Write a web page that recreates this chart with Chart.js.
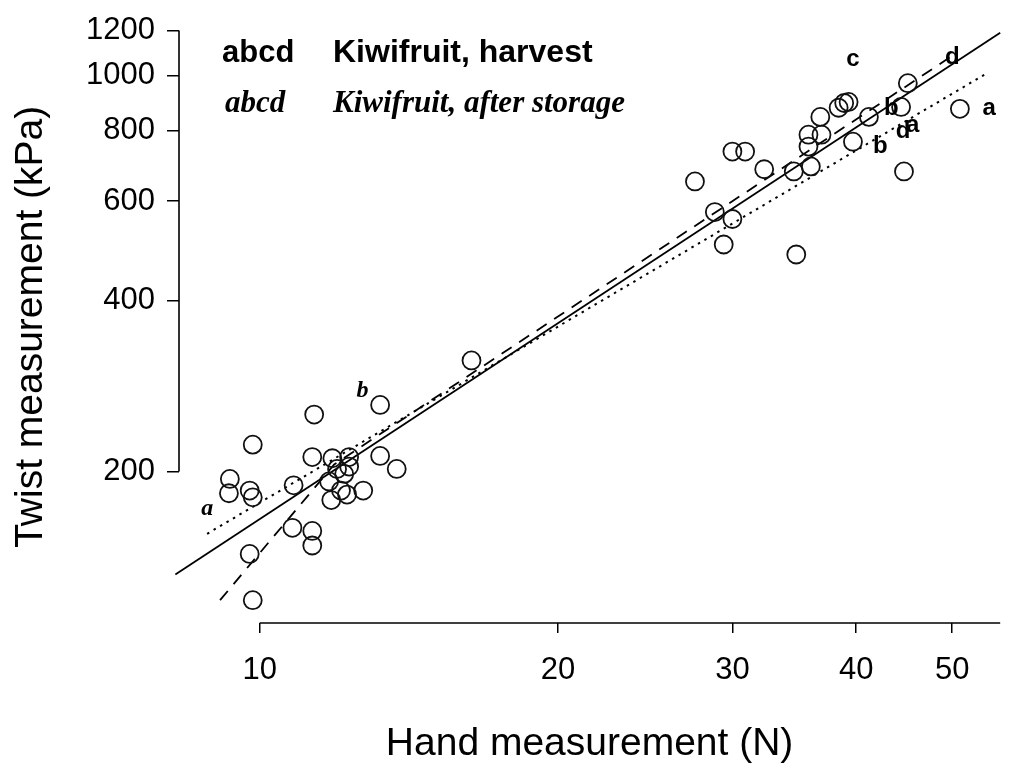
<!DOCTYPE html>
<html>
<head>
<meta charset="utf-8">
<script src="https://cdn.jsdelivr.net/npm/chart.js@4.4.1/dist/chart.umd.min.js"></script>
<style>
  html, body { margin: 0; padding: 0; background: #fff; }
  #wrap { width: 1011px; height: 769px; }
</style>
</head>
<body>
<div id="wrap"><canvas id="chart" width="1011" height="769"></canvas></div>
<script>
// ticks
const xTicks = [10, 20, 30, 40, 50];
const yTicks = [200, 400, 600, 800, 1000, 1200];

// fruit after storage (lower left group)
const storageX = [9.84, 9.33, 9.31, 9.77, 9.84, 10.82, 11.35, 13.23, 11.30, 11.84, 12.31, 12.31, 12.17, 11.75,
                  12.08, 12.25, 11.81, 12.72, 13.23, 13.75, 10.79, 11.30, 11.30, 9.77, 9.84, 16.36, 11.97];
const storageY = [223, 194, 183, 185, 180, 189, 252, 262, 212, 211, 212, 204, 198, 192,
                  185, 182, 178, 185, 213, 202, 159, 157, 148, 143, 118.5, 314, 202];

// fruit at harvest (upper right group)
const harvestX = [27.5, 30.0, 30.9, 32.3, 28.8, 30.0, 29.4, 34.8, 34.6, 35.8, 35.8, 36.8, 36.9, 38.9,
                  39.3, 38.4, 39.7, 41.2, 44.4, 45.1, 44.7, 50.9, 36.0];
const harvestY = [650, 734, 734, 683, 574, 558, 503, 483, 677, 786, 749, 845, 786, 894,
                  898, 877, 764, 845, 880, 969, 677, 873, 691];

// fitted lines
const solidX = [8.22, 55.9];
const solidY = [131.6, 1190];
const dottedX = [8.85, 54.4];
const dottedY = [155.2, 1013];
const dashedX = [9.12, 11.89, 50.4];
const dashedY = [118.5, 205.7, 1093];

// line end labels
const harvestLabelText = ['c', 'd', 'a', 'b', 'd', 'a', 'b'];
const harvestLabelX = [39.7, 50.0, 54.5, 42.3, 44.6, 45.6, 43.4];
const harvestLabelY = [1068, 1076, 876, 749, 796, 818, 876];
const storageLabelText = ['a', 'b'];
const storageLabelX = [8.85, 12.7];
const storageLabelY = [172, 278];

const toPts = (xs, ys) => xs.map((v, i) => ({ x: v, y: ys[i] }));

const SANS = '"Liberation Sans", Arial, Helvetica, sans-serif';
const SERIF = '"Liberation Serif", "Times New Roman", serif';

const pointStyle = {
    type: 'scatter',
    pointStyle: 'circle',
    pointRadius: 9,
    pointHoverRadius: 9,
    borderColor: '#111',
    backgroundColor: 'rgba(0,0,0,0)',
    borderWidth: 1.8
};

const lineStyle = {
    type: 'line',
    showLine: true,
    pointRadius: 0,
    borderColor: '#000',
    fill: false,
    tension: 0,
    clip: false
};

const paperPlugin = {
    id: 'paper',
    afterDatasetsDraw(chart) {
        const { ctx, chartArea, scales: { x, y } } = chart;
        ctx.save();
        // partial axis lines, like the printed figure
        ctx.strokeStyle = '#000';
        ctx.lineWidth = 1.6;
        ctx.beginPath();
        ctx.moveTo(chartArea.left, y.getPixelForValue(yTicks[yTicks.length - 1]));
        ctx.lineTo(chartArea.left, y.getPixelForValue(yTicks[0]));
        ctx.moveTo(x.getPixelForValue(xTicks[0]), chartArea.bottom);
        ctx.lineTo(chartArea.right, chartArea.bottom);
        ctx.stroke();

        // key
        ctx.fillStyle = '#000';
        ctx.textBaseline = 'alphabetic';
        ctx.textAlign = 'left';
        ctx.font = 'bold 31px ' + SANS;
        ctx.fillText('abcd', 222, 62);
        ctx.font = 'bold 32px ' + SANS;
        ctx.fillText('Kiwifruit, harvest', 333, 62);
        ctx.font = 'italic bold 31px ' + SERIF;
        ctx.fillText('abcd', 225, 112);
        ctx.fillText('Kiwifruit, after storage', 333, 112);

        // line labels
        ctx.textAlign = 'center';
        ctx.textBaseline = 'middle';
        ctx.font = 'bold 24px ' + SANS;
        harvestLabelText.forEach((t, i) => {
            ctx.fillText(t, x.getPixelForValue(harvestLabelX[i]), y.getPixelForValue(harvestLabelY[i]));
        });
        ctx.font = 'italic bold 24px ' + SERIF;
        storageLabelText.forEach((t, i) => {
            ctx.fillText(t, x.getPixelForValue(storageLabelX[i]), y.getPixelForValue(storageLabelY[i]));
        });
        ctx.restore();
    }
};

new Chart(document.getElementById('chart').getContext('2d'), {
    data: {
        datasets: [
            Object.assign({ label: 'Kiwifruit, after storage', data: toPts(storageX, storageY) }, pointStyle),
            Object.assign({ label: 'Kiwifruit, harvest', data: toPts(harvestX, harvestY) }, pointStyle),
            Object.assign({ label: 'solid', data: toPts(solidX, solidY), borderWidth: 1.8 }, lineStyle),
            Object.assign({ label: 'dotted', data: toPts(dottedX, dottedY), borderWidth: 2, borderDash: [2.5, 5] }, lineStyle),
            Object.assign({ label: 'dashed', data: toPts(dashedX, dashedY), borderWidth: 1.8, borderDash: [12, 9] }, lineStyle)
        ]
    },
    options: {
        responsive: false,
        animation: false,
        events: [],
        layout: { padding: { top: 25, right: 1, left: 0, bottom: 0 } },
        plugins: { legend: { display: false }, tooltip: { enabled: false } },
        scales: {
            x: {
                type: 'logarithmic',
                min: 8.29,
                max: 55.9,
                afterBuildTicks: s => { s.ticks = xTicks.map(v => ({ value: v })); },
                afterFit: s => { s.height = 146; },
                border: { display: false },
                grid: { display: true, drawOnChartArea: false, drawTicks: true, tickLength: 10, color: '#000', lineWidth: 1.5 },
                ticks: { color: '#000', font: { family: SANS, size: 31 }, padding: 19, maxRotation: 0, autoSkip: false, callback: v => String(v) },
                title: { display: true, text: 'Hand measurement (N)', color: '#000', font: { family: SANS, size: 39 }, padding: { top: 0, bottom: 1 } }
            },
            y: {
                type: 'logarithmic',
                min: 108,
                max: 1200,
                afterBuildTicks: s => { s.ticks = yTicks.map(v => ({ value: v })); },
                afterFit: s => { s.width = 179; },
                border: { display: false },
                grid: { display: true, drawOnChartArea: false, drawTicks: true, tickLength: 12, color: '#000', lineWidth: 1.5 },
                ticks: { color: '#000', font: { family: SANS, size: 31 }, padding: 12, autoSkip: false, callback: v => String(v) },
                title: { display: true, text: 'Twist measurement (kPa)', color: '#000', font: { family: SANS, size: 39 }, padding: { top: 8, bottom: 0 } }
            }
        }
    },
    plugins: [paperPlugin]
});
</script>
</body>
</html>
